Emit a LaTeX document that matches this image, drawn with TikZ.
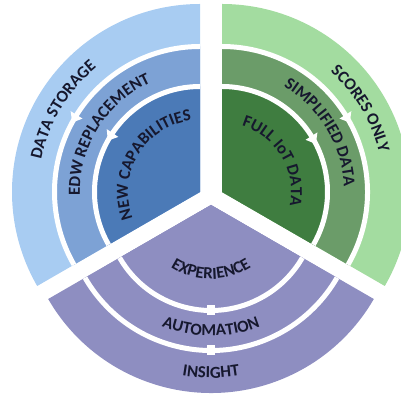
\documentclass[tikz,border=0pt]{standalone}
\usepackage{fontspec}
\setmainfont{Carlito}
\usetikzlibrary{calc,decorations.text}

\definecolor{bluea}{HTML}{A8CCF2}
\definecolor{blueb}{HTML}{7DA2D5}
\definecolor{bluec}{HTML}{4B7AB7}
\definecolor{greena}{HTML}{A3DCA0}
\definecolor{greenb}{HTML}{6B9C69}
\definecolor{greenc}{HTML}{3F7D40}
\definecolor{lilac}{HTML}{8E8EC1}
\definecolor{ink}{HTML}{16182E}

\tikzset{
    ringgap/.style={white, line width=1.25mm},
    ringtext/.style={decorate, decoration={text along path, text align=center,
        text color=ink, text={|\bfseries\fontsize{12}{14}\selectfont|#1}}},
}

\begin{document}
\begin{tikzpicture}[x=0.25mm, y=0.25mm]
    \useasboundingbox (0,0) rectangle (401,398);
    \coordinate (storage) at (200,206);
    \coordinate (scores) at (222,206);
    \coordinate (insight) at (211,193);

    \foreach \apex/\from/\to/\ca/\cb/\cc in {storage/90/210/bluea/blueb/bluec,
        scores/-30/90/greena/greenb/greenc, insight/210/330/lilac/lilac/lilac} {
        \fill[\ca] (\apex) -- ++(\from:188) arc[start angle=\from, end angle=\to, radius=188] -- cycle;
        \fill[\cb] (\apex) -- ++(\from:145.5) arc[start angle=\from, end angle=\to, radius=145.5] -- cycle;
        \fill[\cc] (\apex) -- ++(\from:105.5) arc[start angle=\from, end angle=\to, radius=105.5] -- cycle;
        \draw[ringgap] ($(\apex)+(\from:145.5)$) arc[start angle=\from, end angle=\to, radius=145.5];
        \draw[ringgap] ($(\apex)+(\from:105.5)$) arc[start angle=\from, end angle=\to, radius=105.5];
    }

    \fill[white] ($(storage)+(148:138.5)$) -- ($(storage)+(148:152.5)$) -- ($(storage)+(151.5:145.5)$) -- cycle;
    \fill[white] ($(storage)+(146:98.5)$) -- ($(storage)+(146:112.5)$) -- ($(storage)+(150.9:105.5)$) -- cycle;
    \fill[white] ($(scores)+(32:138.5)$) -- ($(scores)+(32:152.5)$) -- ($(scores)+(28.5:145.5)$) -- cycle;
    \fill[white] ($(scores)+(32:98.5)$) -- ($(scores)+(32:112.5)$) -- ($(scores)+(27.1:105.5)$) -- cycle;
    \fill[white] ($(insight)+(270:145.5)$) ++(-4,-5) rectangle ++(8,10);
    \fill[white] ($(insight)+(270:105.5)$) ++(-4,-5) rectangle ++(8,10);

    \path[ringtext={DATA STORAGE}] ($(storage)+(195:162)$) arc[start angle=195, end angle=103, radius=162];
    \path[ringtext={EDW REPLACEMENT}] ($(storage)+(208:120)$) arc[start angle=208, end angle=88, radius=120];
    \path[ringtext={NEW CAPABILITIES}] ($(storage)+(215:72)$) arc[start angle=215, end angle=83, radius=72];
    \path[ringtext={SCORES ONLY}] ($(scores)+(77:162)$) arc[start angle=77, end angle=-15, radius=162];
    \path[ringtext={SIMPLIFIED DATA}] ($(scores)+(91:122)$) arc[start angle=91, end angle=-29, radius=122];
    \path[ringtext={FULL IoT DATA}] ($(scores)+(97:69)$) arc[start angle=97, end angle=-35, radius=69];
    \path[ringtext={EXPERIENCE}] ($(insight)+(202:74)$) arc[start angle=202, end angle=338, radius=74];
    \path[ringtext={AUTOMATION}] ($(insight)+(232:131)$) arc[start angle=232, end angle=308, radius=131];
    \path[ringtext={INSIGHT}] ($(insight)+(243:173)$) arc[start angle=243, end angle=297, radius=173];
\end{tikzpicture}
\end{document}
